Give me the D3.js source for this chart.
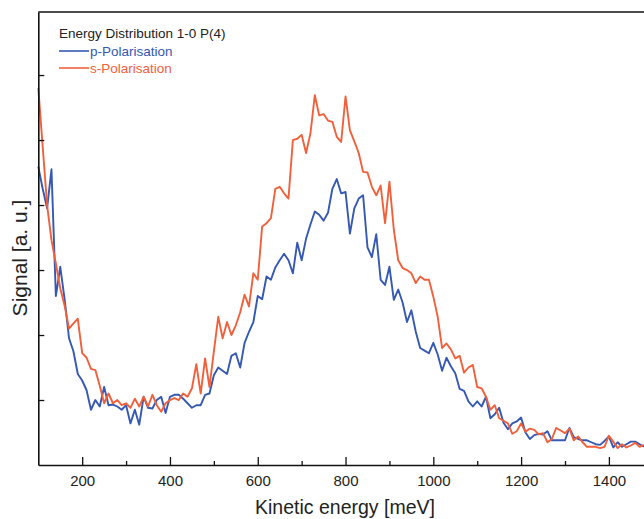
<!DOCTYPE html>
<html>
<head>
<meta charset="utf-8">
<script src="https://cdn.jsdelivr.net/npm/d3@7"></script>
<style>
  html, body { margin: 0; padding: 0; background: #fff; }
  svg { display: block; font-family: Arial, "Liberation Sans", sans-serif; }
</style>
</head>
<body>
<div id="chart"></div>
<script>
// kinetic energy grid (meV), one sample every 10 meV
const energies = d3.range(100, 1481, 10);

// s-Polarisation signal [a.u.]
const sSignal = [
  5.80, 4.90, 4.00, 3.46, 3.10, 2.72, 2.45, 2.10, 2.18, 2.25,
  1.72, 1.65, 1.48, 1.46, 1.22, 0.95, 1.10, 0.95, 1.00, 0.92,
  0.95, 0.88, 1.02, 0.90, 1.05, 0.90, 1.08, 0.92, 0.82, 0.95,
  1.00, 1.03, 1.00, 1.10, 1.05, 1.18, 1.55, 1.10, 1.64, 1.20,
  1.75, 2.28, 1.95, 2.20, 2.00, 2.15, 2.35, 2.62, 2.44, 2.95,
  2.85, 3.67, 3.72, 3.80, 4.25, 4.28, 4.18, 4.10, 5.00, 5.02,
  5.08, 4.80, 5.10, 5.69, 5.38, 5.40, 5.30, 5.28, 5.05, 4.97,
  5.67, 5.15, 4.98, 4.80, 4.51, 4.50, 4.28, 4.15, 4.30, 3.72,
  4.36, 3.62, 3.15, 3.03, 3.00, 2.95, 2.80, 2.90, 2.85, 2.85,
  2.59, 2.28, 1.80, 1.87, 1.78, 1.64, 1.68, 1.42, 1.50, 1.54,
  1.20, 1.18, 1.05, 0.85, 0.92, 0.72, 0.68, 0.64, 0.48, 0.52,
  0.64, 0.51, 0.56, 0.54, 0.47, 0.49, 0.35, 0.40, 0.57, 0.53,
  0.49, 0.56, 0.38, 0.44, 0.35, 0.28, 0.28, 0.28, 0.26, 0.28,
  0.45, 0.36, 0.26, 0.32, 0.27, 0.30, 0.34, 0.28, 0.31
];

// p-Polarisation signal [a.u.]
const pSignal = [
  4.59, 4.25, 3.95, 4.55, 2.60, 3.05, 2.55, 1.95, 1.75, 1.40,
  1.30, 1.15, 0.85, 1.00, 0.90, 1.20, 0.92, 0.93, 0.90, 0.85,
  0.92, 0.64, 0.85, 0.62, 1.05, 0.88, 0.87, 1.00, 1.05, 0.80,
  1.05, 1.08, 1.08, 1.02, 0.95, 0.88, 0.92, 0.92, 1.08, 1.10,
  1.38, 1.50, 1.45, 1.40, 1.68, 1.72, 1.50, 1.88, 2.05, 2.20,
  2.60, 2.55, 2.90, 2.85, 3.04, 3.15, 3.25, 3.15, 2.95, 3.42,
  3.15, 3.48, 3.70, 3.90, 3.85, 3.76, 3.88, 4.25, 4.40, 4.18,
  4.20, 3.56, 3.95, 4.10, 4.15, 3.35, 3.20, 3.55, 2.85, 2.77,
  3.05, 2.54, 2.70, 2.50, 2.20, 2.38, 2.05, 1.80, 1.76, 1.72,
  1.88, 1.70, 1.45, 1.65, 1.52, 1.41, 1.17, 1.14, 0.98, 0.90,
  0.98, 0.90, 1.05, 0.72, 0.78, 0.88, 0.65, 0.55, 0.64, 0.67,
  0.73, 0.50, 0.40, 0.46, 0.48, 0.47, 0.52, 0.38, 0.38, 0.38,
  0.38, 0.57, 0.43, 0.40, 0.38, 0.38, 0.35, 0.32, 0.31, 0.37,
  0.44, 0.27, 0.35, 0.28, 0.32, 0.36, 0.36, 0.32, 0.28
];

const majorTicks = [200, 400, 600, 800, 1000, 1200, 1400];
const minorTicks = [300, 500, 700, 900, 1100, 1300];
const yTicks = [1, 2, 3, 4, 5, 6];

const legendTitle = 'Energy Distribution 1-0 P(4)';
const series = [
  {name: 'p-Polarisation', values: pSignal, color: '#3558b2'},
  {name: 's-Polarisation', values: sSignal, color: '#f2603b'}
];

const W = 644, H = 519;
const plot = {left: 38.3, right: 644, top: 12, bottom: 465};

const svg = d3.select('#chart').append('svg')
  .attr('width', W)
  .attr('height', H);

const x = d3.scaleLinear().domain([100, 1480]).range([plot.left, plot.right]);
const y = d3.scaleLinear().domain([0, 6.97]).range([plot.bottom, plot.top]);

// curves, blue under orange
const line = d3.line()
  .x((d, i) => x(energies[i]))
  .y(d => y(d));

svg.selectAll('.curve')
  .data(series)
  .enter().append('path')
  .attr('class', 'curve')
  .attr('d', d => line(d.values))
  .attr('fill', 'none')
  .attr('stroke', d => d.color)
  .attr('stroke-width', 1.9)
  .attr('stroke-linejoin', 'round');

// frame top
svg.append('line')
  .attr('x1', plot.left).attr('x2', W + 5)
  .attr('y1', plot.top).attr('y2', plot.top)
  .attr('stroke', '#111').attr('stroke-width', 1.5);

// x axis, ticks pointing inwards
const xMajor = svg.append('g')
  .attr('transform', `translate(0,${plot.bottom})`)
  .call(d3.axisBottom(x).tickValues(majorTicks).tickSize(-8).tickSizeOuter(0)
    .tickPadding(10).tickFormat(d3.format('d')));
xMajor.select('.domain').attr('stroke', '#111').attr('stroke-width', 1.6);
xMajor.selectAll('.tick line').attr('stroke', '#111').attr('stroke-width', 1.3);
xMajor.selectAll('.tick text')
  .attr('font-size', 15)
  .attr('fill', '#222');

const xMinor = svg.append('g')
  .attr('transform', `translate(0,${plot.bottom})`)
  .call(d3.axisBottom(x).tickValues(minorTicks).tickSize(-4).tickSizeOuter(0).tickFormat(''));
xMinor.select('.domain').remove();
xMinor.selectAll('.tick line').attr('stroke', '#111').attr('stroke-width', 1.3);

// y axis, no labels
const yAxis = svg.append('g')
  .attr('transform', `translate(${plot.left},0)`)
  .call(d3.axisLeft(y).tickValues(yTicks).tickSize(-6).tickSizeOuter(0).tickFormat(''));
yAxis.select('.domain').attr('stroke', '#111').attr('stroke-width', 1.6);
yAxis.selectAll('.tick line').attr('stroke', '#111').attr('stroke-width', 1.3);

// axis titles
svg.append('text')
  .attr('x', 345).attr('y', 514)
  .attr('text-anchor', 'middle')
  .attr('font-size', 19.5)
  .attr('fill', '#222')
  .text('Kinetic energy [meV]');

svg.append('text')
  .attr('transform', 'translate(27,258) rotate(-90)')
  .attr('text-anchor', 'middle')
  .attr('font-size', 21)
  .attr('fill', '#222')
  .text('Signal [a. u.]');

// legend
const legend = svg.append('g');
legend.append('text')
  .attr('x', 59).attr('y', 38)
  .attr('font-size', 13.5)
  .attr('fill', '#222')
  .text(legendTitle);

const items = legend.selectAll('.item')
  .data(series)
  .enter().append('g')
  .attr('class', 'item')
  .attr('transform', (d, i) => `translate(59,${51 + i * 17})`);
items.append('line')
  .attr('x1', 0).attr('x2', 30)
  .attr('stroke', d => d.color)
  .attr('stroke-width', 1.6);
items.append('text')
  .attr('x', 31).attr('y', 4.5)
  .attr('font-size', 13.5)
  .attr('fill', d => d.color)
  .text(d => d.name);
</script>
</body>
</html>
